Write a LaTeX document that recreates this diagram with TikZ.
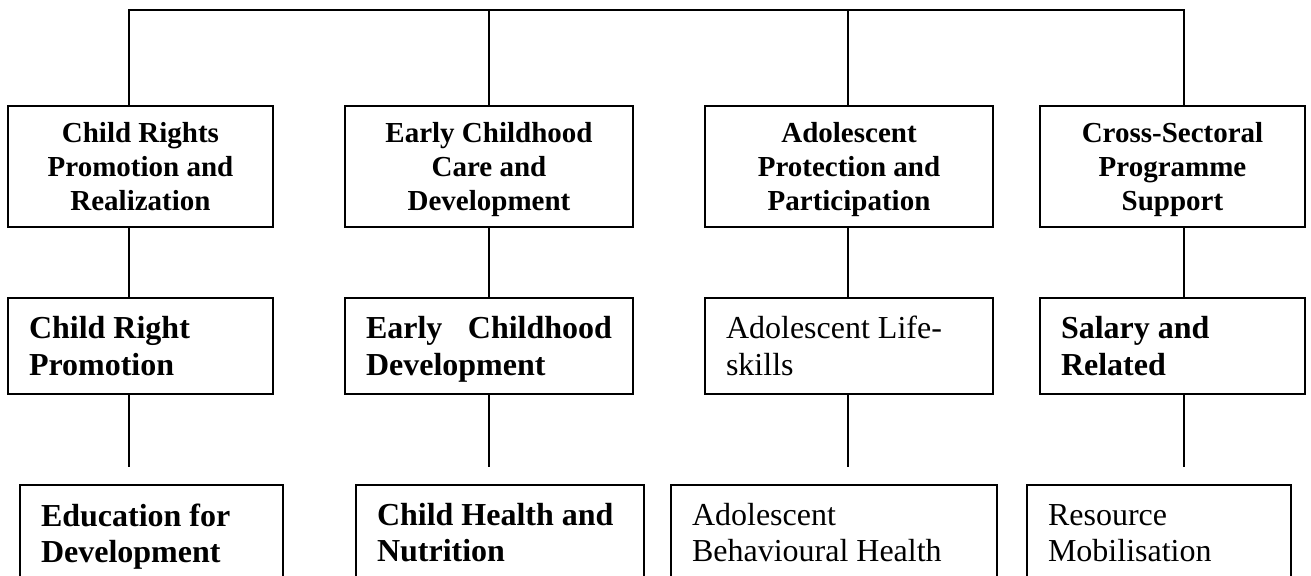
\documentclass[tikz,border=0pt]{standalone}
\usepackage{fontspec}
\setmainfont{Liberation Serif}
\newcommand{\nodepth}[1]{\raisebox{0pt}[\height][0pt]{#1}}
\begin{document}
\begin{tikzpicture}[x=0.5pt,y=-0.5pt,line width=1pt,
  topbox/.style={draw,line width=1pt,inner sep=0pt,minimum height=60.5pt,align=center,text depth=0pt,
    font=\bfseries\fontsize{14.5}{17}\selectfont},
  midbox/.style={draw,line width=1pt,inner ysep=0pt,inner xsep=10.5pt,minimum height=48pt,
    align=flush left},
  midb/.style={midbox,font=\bfseries\fontsize{16}{18.5}\selectfont},
  midr/.style={midbox,font=\fontsize{16}{18.5}\selectfont},
  lowb/.style={midbox,font=\bfseries\fontsize{16}{18}\selectfont},
  lowr/.style={midbox,font=\fontsize{16}{18}\selectfont},
  link/.style={line width=1pt}]
\clip (0,0) rectangle (1311,575);
% top row
\node[topbox,minimum width=132.5pt] (t1) at (140.5,166.5) {Child Rights\\Promotion and\\Realization};
\node[topbox,minimum width=144pt] (t2) at (489,166.5) {Early Childhood\\Care and\\Development};
\node[topbox,minimum width=144pt] (t3) at (849,166.5) {Adolescent\\Protection and\\Participation};
\node[topbox,minimum width=132.5pt] (t4) at (1172.5,166.5) {Cross-Sectoral\\Programme\\Support};
% middle row
\node[midb,text width=111.5pt] (m1) at (140.5,346) {Child Right\\Promotion};
\node[midb,text width=123pt] (m2) at (489,346) {Early\hfill Childhood\\\nodepth{Development}};
\node[midr,text width=123pt] (m3) at (849,346) {Adolescent Life-\\skills};
\node[midb,text width=111.5pt] (m4) at (1172.5,346) {Salary and\\Related};
% bottom row
\node[lowb,text width=110.5pt] (l1) at (151.5,533) {Education for\\\nodepth{Development}};
\node[lowb,text width=123pt] (l2) at (500,533) {Child Health and\\Nutrition};
\node[lowr,text width=142pt] (l3) at (834,533) {Adolescent\\Behavioural Health};
\node[lowr,text width=111pt] (l4) at (1159,533) {Resource\\Mobilisation};
% connectors
\coordinate (b1) at (129,10);
\coordinate (b2) at (489,10);
\coordinate (b3) at (848,10);
\coordinate (b4) at (1184,10);
\coordinate (e1) at (129,467);
\coordinate (e2) at (489,467);
\coordinate (e3) at (848,467);
\coordinate (e4) at (1184,467);
\draw[link] (b1 |- t1.north) -- (b1) -- (b4) -- (b4 |- t4.north);
\draw[link] (b2) -- (b2 |- t2.north);
\draw[link] (b3) -- (b3 |- t3.north);
\foreach \i in {1,2,3,4}{
  \draw[link] (t\i.south -| b\i) -- (m\i.north -| b\i);
  \draw[link] (m\i.south -| b\i) -- (e\i);
}
\end{tikzpicture}
\end{document}
